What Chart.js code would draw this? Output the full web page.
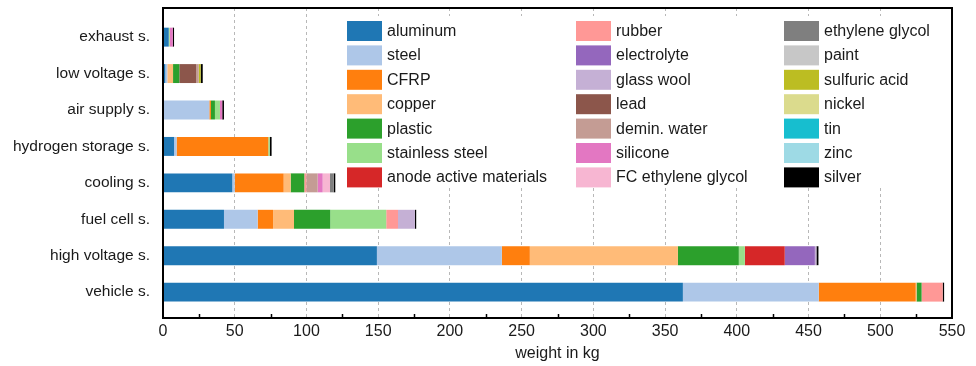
<!DOCTYPE html>
<html>
<head>
<meta charset="utf-8">
<script src="https://cdn.jsdelivr.net/npm/chart.js@4.4.0/dist/chart.umd.min.js"></script>
<style>
html, body { margin: 0; padding: 0; background: #fff; }
#wrap { width: 976px; height: 366px; }
</style>
</head>
<body>
<div id="wrap"><canvas id="chart" width="976" height="366"></canvas></div>
<script>
// systems, top to bottom
const systems = ["exhaust s.", "low voltage s.", "air supply s.", "hydrogen storage s.",
                 "cooling s.", "fuel cell s.", "high voltage s.", "vehicle s."];

const materials = ["aluminum", "steel", "CFRP", "copper", "plastic", "stainless steel",
                   "anode active materials", "rubber", "electrolyte", "glass wool", "lead",
                   "demin. water", "silicone", "FC ethylene glycol", "ethylene glycol", "paint",
                   "sulfuric acid", "nickel", "tin", "zinc", "silver"];

const colors = ["#1f77b4", "#aec7e8", "#ff7f0e", "#ffbb78", "#2ca02c", "#98df8a",
                "#d62728", "#ff9896", "#9467bd", "#c5b0d5", "#8c564b",
                "#c49c94", "#e377c2", "#f7b6d2", "#7f7f7f", "#c7c7c7",
                "#bcbd22", "#dbdb8d", "#17becf", "#9edae5", "#000000"];

// weight in kg per system (same order as systems)
const aluminum       = [4.0, 1.6, 0,    7.7,  48.3, 42.5, 149.1, 362.4];
const steel          = [0,   1.4, 32.3, 1.8,  1.7,  23.5, 87.1,  94.7];
const cfrp           = [0,   0,   1.1,  63.9, 34.1, 10.7, 19.5,  67.6];
const copper         = [0,   4.0, 0,    0,    4.9,  14.6, 103.2, 0.6];
const plastic        = [0,   4.4, 2.8,  0,    9.5,  25.3, 42.5,  3.5];
const stainless      = [0.7, 0,   3.5,  1.0,  0,    39.0, 4.2,   0];
const anode          = [0,   0,   0,    0,    0,    0,    27.8,  0];
const rubber         = [0,   0,   0,    0,    1.4,  8.2,  0,     14.7];
const electrolyte    = [0,   0,   0,    0,    0,    0,    21.0,  0];
const glassWool      = [0,   0,   0,    0,    0,    11.8, 1.1,   0];
const lead           = [0,   11.8, 0,   0,    0,    0,    0,     0];
const deminWater     = [0,   1.7, 0,    0,    7.9,  0,    0,     0];
const silicone       = [2.1, 0,   1.6,  0,    3.5,  0,    0,     0];
const fcGlycol       = [0,   0,   0,    0,    5.1,  0,    0,     0];
const glycol         = [0,   0,   0,    0,    2.6,  0,    0,     0];
const paint          = [0,   0,   0,    0,    0,    0,    0,     0];
const sulfuricAcid   = [0,   1.4, 0,    0,    0,    0,    0,     0];
const nickel         = [0,   0,   0,    0,    0,    0,    0,     0];
const tin            = [0,   0,   0,    0,    0,    0,    0,     0];
const zinc           = [0,   0,   0,    0,    0,    0,    0,     0];
const silver         = [0.9, 1.4, 1.2,  1.3,  1.1,  0.9,  1.4,   1.0];

const weights = [aluminum, steel, cfrp, copper, plastic, stainless, anode, rubber,
                 electrolyte, glassWool, lead, deminWater, silicone, fcGlycol, glycol,
                 paint, sulfuricAcid, nickel, tin, zinc, silver];

const xTicks = [0, 50, 100, 150, 200, 250, 300, 350, 400, 450, 500, 550];

const FONT = "'Liberation Sans', Arial, sans-serif";
const TEXT = "#1a1a1a";

const datasets = materials.map((m, i) => ({
    label: m,
    data: weights[i].map((v, j) => ({ x: v, y: j })),
    backgroundColor: colors[i],
    borderWidth: 0
}));

// black box around the plot + small inner ticks every 25 kg
const frame = {
    id: "frame",
    afterDatasetsDraw(chart) {
        const { ctx, chartArea: a, scales: { x } } = chart;
        ctx.save();
        ctx.strokeStyle = "#000";
        ctx.lineWidth = 1.5;
        for (let v = 25; v < 550; v += 50) {
            const px = Math.round(x.getPixelForValue(v)) + 0.5;
            ctx.beginPath();
            ctx.moveTo(px, a.bottom);
            ctx.lineTo(px, a.bottom - 4);
            ctx.stroke();
        }
        ctx.lineWidth = 2;
        ctx.strokeRect(a.left, a.top, a.right - a.left, a.bottom - a.top);
        ctx.restore();
    }
};

// three-column legend in the upper right of the plot
const columnLegend = {
    id: "columnLegend",
    afterDraw(chart) {
        const ctx = chart.ctx;
        const cols = [347, 576, 784];
        const top = 21, rowH = 24.4, sw = 35, sh = 20;
        ctx.save();
        ctx.fillStyle = "#fff";
        ctx.fillRect(340, 16, 604, 172);
        ctx.font = "16px " + FONT;
        ctx.textBaseline = "middle";
        chart.data.datasets.forEach((ds, i) => {
            const c = Math.floor(i / 7), r = i % 7;
            const x = cols[c], y = top + r * rowH;
            ctx.fillStyle = ds.backgroundColor;
            ctx.fillRect(x, y, sw, sh);
            ctx.fillStyle = TEXT;
            ctx.fillText(ds.label, x + sw + 5, y + sh / 2 + 0.5);
        });
        ctx.restore();
    }
};

new Chart(document.getElementById("chart"), {
    type: "bar",
    data: { datasets },
    options: {
        indexAxis: "y",
        responsive: false,
        animation: false,
        layout: { padding: { top: 8, right: 24, left: 0, bottom: 0 } },
        datasets: { bar: { barPercentage: 0.52, categoryPercentage: 1 } },
        plugins: { legend: { display: false }, tooltip: { enabled: false } },
        scales: {
            x: {
                type: "linear",
                stacked: true,
                min: 0,
                max: 550,
                afterBuildTicks(s) { s.ticks = xTicks.map(v => ({ value: v })); },
                afterFit(s) { s.height = 48; },
                ticks: { font: { family: FONT, size: 16 }, color: TEXT, padding: 4, maxRotation: 0 },
                grid: { color: "#b8b8b8", lineWidth: 1, drawTicks: false },
                border: { display: false, dash: [3, 3] },
                title: {
                    display: true,
                    text: "weight in kg",
                    font: { family: FONT, size: 16 },
                    color: TEXT,
                    padding: { top: 0, bottom: 3 }
                }
            },
            y: {
                type: "linear",
                stacked: true,
                reverse: true,
                offset: false,
                min: -0.8,
                max: 7.71,
                afterBuildTicks(s) { s.ticks = systems.map((_, i) => ({ value: i })); },
                afterFit(s) { s.width = 163; s.paddingTop = 0; s.paddingBottom = 0; },
                ticks: {
                    callback: v => systems[v],
                    font: { family: FONT, size: 15.5 },
                    color: TEXT,
                    padding: 5
                },
                grid: { display: false, drawTicks: true, tickLength: 8 },
                border: { display: false }
            }
        }
    },
    plugins: [frame, columnLegend]
});
</script>
</body>
</html>
